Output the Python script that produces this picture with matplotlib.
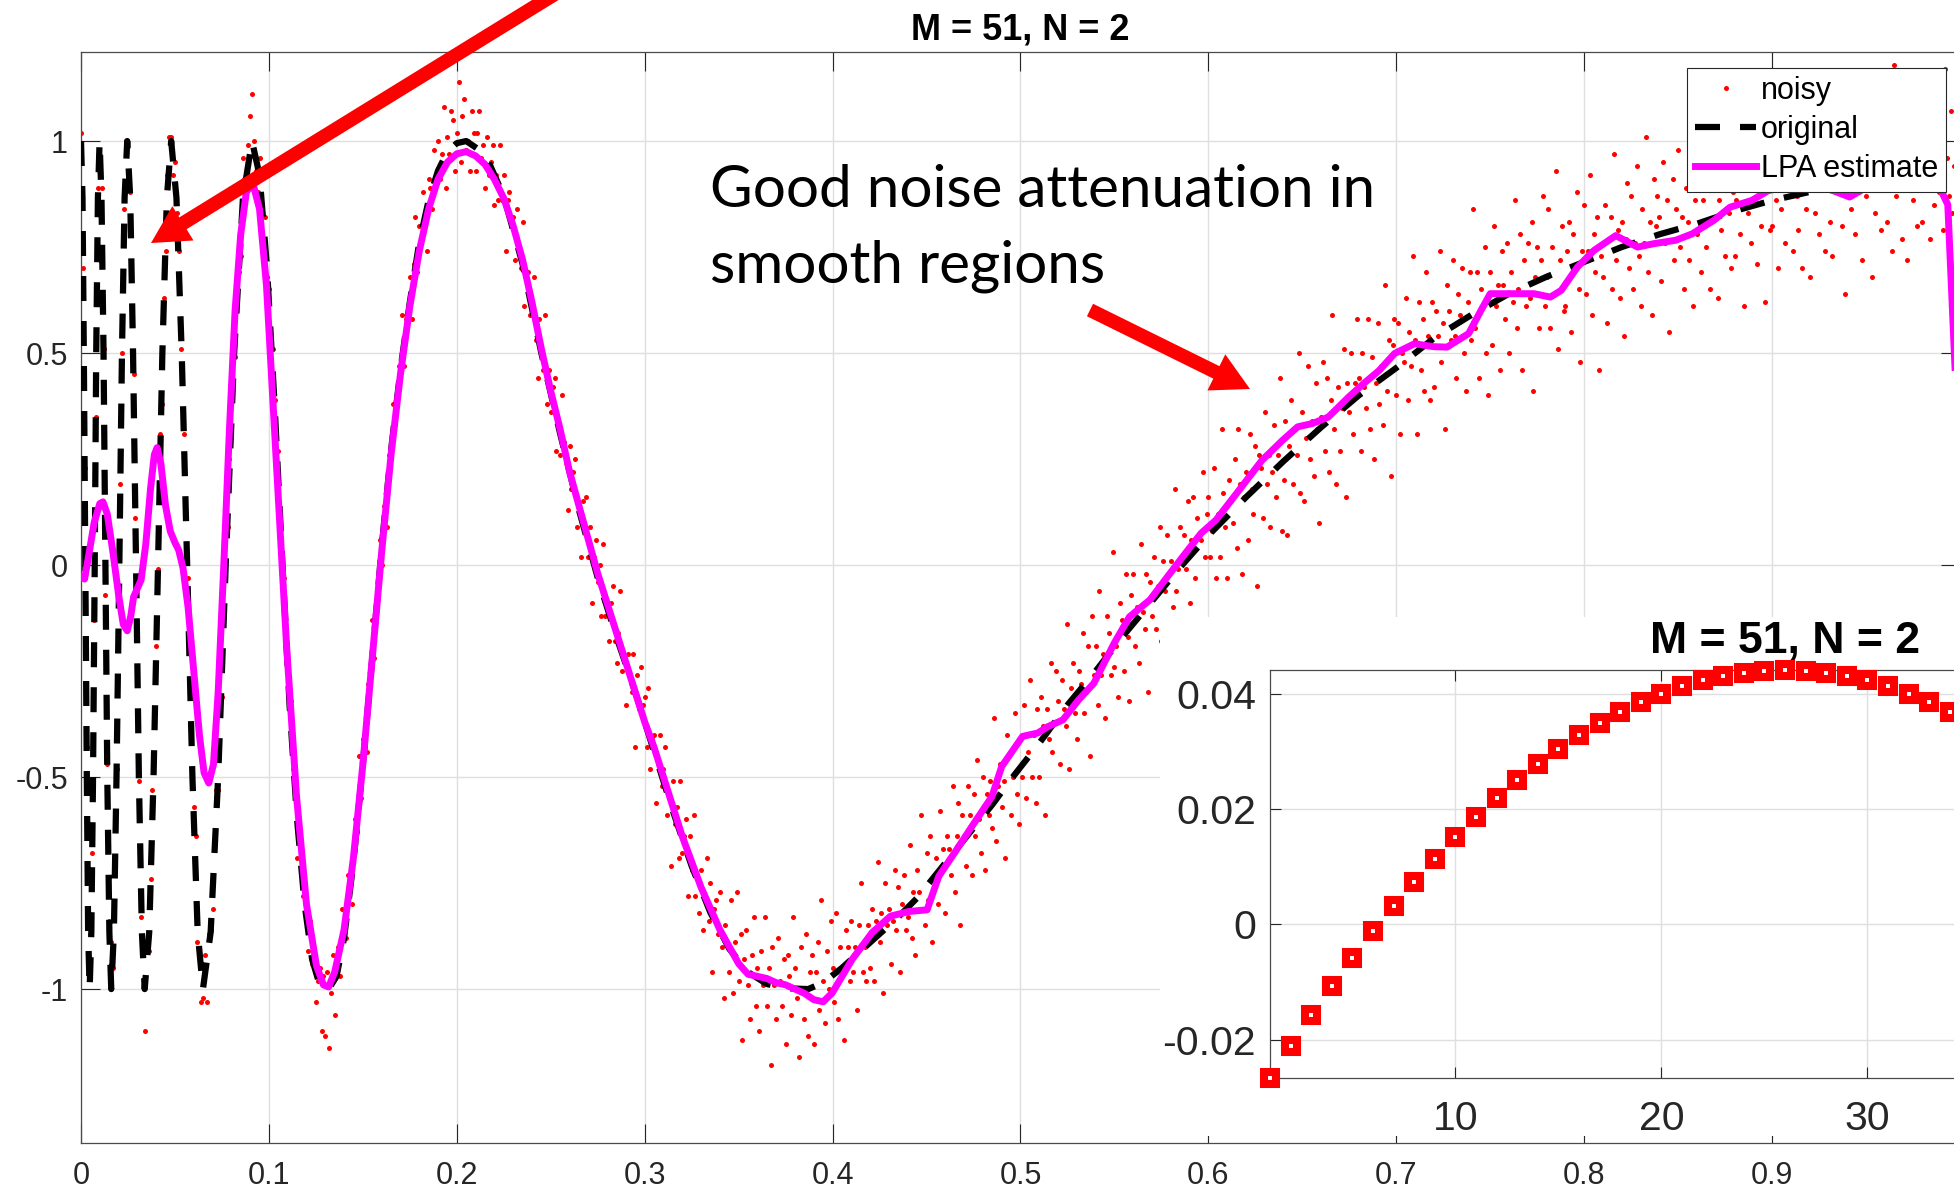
import numpy as np
import matplotlib
matplotlib.use("Agg")
import matplotlib.pyplot as plt
from matplotlib.patches import Rectangle, FancyArrowPatch

# ---------------- data ----------------
orig_x = [0.0000, 0.0008, 0.0015, 0.0023, 0.0031, 0.0038, 0.0046,
          0.0055, 0.0064, 0.0073, 0.0081, 0.0090, 0.0099,
          0.0109, 0.0120, 0.0130, 0.0140, 0.0151, 0.0161,
          0.0175, 0.0189, 0.0204, 0.0218, 0.0232, 0.0246,
          0.0262, 0.0277, 0.0293, 0.0308, 0.0324, 0.0339,
          0.0363, 0.0386, 0.0410, 0.0433, 0.0457, 0.0480,
          0.0508, 0.0536, 0.0565, 0.0593, 0.0621, 0.0649,
          0.0690, 0.0730, 0.0770, 0.0815, 0.0862, 0.0910,
          0.0950, 0.0990, 0.1030, 0.1070, 0.1110, 0.1150, 0.1190, 0.1230, 0.1270, 0.1318,
          0.1360, 0.1400, 0.1450, 0.1500, 0.1550, 0.1600, 0.1650, 0.1700, 0.1750, 0.1800,
          0.1850, 0.1900, 0.1950, 0.2000, 0.2050,
          0.2150, 0.2250, 0.2350, 0.2450, 0.2550, 0.2650, 0.2750, 0.2850, 0.2950, 0.3050,
          0.3150, 0.3250, 0.3350, 0.3450, 0.3550, 0.3650, 0.3750, 0.3870,
          0.3950, 0.4050, 0.4150, 0.4250, 0.4350, 0.4450, 0.4550, 0.4650, 0.4750, 0.4850, 0.4950,
          0.5100, 0.5250, 0.5400, 0.5550, 0.5700, 0.5850, 0.6000,
          0.6200, 0.6400, 0.6600, 0.6800, 0.7000, 0.7200, 0.7400, 0.7600, 0.7800, 0.8000,
          0.8200, 0.8400, 0.8600, 0.8800, 0.9000, 0.9200, 0.9400, 0.9600, 0.9800, 1.0000]
orig_y = [1.0, 0.866, 0.5, 0.0, -0.5, -0.866, -1.0,
          -0.866, -0.5, 0.0, 0.5, 0.866, 1.0,
          0.866, 0.5, 0.0, -0.5, -0.866, -1.0,
          -0.866, -0.5, 0.0, 0.5, 0.866, 1.0,
          0.866, 0.5, 0.0, -0.5, -0.866, -1.0,
          -0.866, -0.5, 0.0, 0.5, 0.866, 1.0,
          0.866, 0.5, 0.0, -0.5, -0.866, -1.0,
          -0.866, -0.5, 0.0, 0.5, 0.866, 1.0,
          0.92, 0.70, 0.38, 0.02, -0.33, -0.60, -0.80, -0.93, -0.99, -1.0,
          -0.97, -0.88, -0.70, -0.47, -0.22, 0.04, 0.27, 0.46, 0.62, 0.76,
          0.86, 0.93, 0.975, 0.995, 1.0,
          0.97, 0.87, 0.71, 0.50, 0.31, 0.13, -0.03, -0.17, -0.30, -0.44,
          -0.58, -0.71, -0.82, -0.905, -0.96, -0.988, -0.998, -1.0,
          -0.985, -0.95, -0.91, -0.87, -0.83, -0.785, -0.73, -0.675, -0.62, -0.565, -0.505,
          -0.42, -0.33, -0.25, -0.165, -0.085, -0.005, 0.07,
          0.16, 0.245, 0.325, 0.40, 0.465, 0.535, 0.59, 0.64, 0.68, 0.715,
          0.75, 0.78, 0.805, 0.835, 0.86, 0.88, 0.895, 0.91, 0.92, 0.93]

lpa_x = [0.0000, 0.0019, 0.0040, 0.0070, 0.0100, 0.0117, 0.0140, 0.0170, 0.0200, 0.0225,
         0.0246, 0.0265, 0.0280, 0.0300, 0.0320, 0.0345, 0.0370, 0.0390, 0.0405, 0.0425,
         0.0450, 0.0475, 0.0499, 0.0520, 0.0543, 0.0570, 0.0600, 0.0630, 0.0655, 0.0680,
         0.0705, 0.0730, 0.0760, 0.0790, 0.0820, 0.0850, 0.0880, 0.0915, 0.0950, 0.0987,
         0.1040, 0.1094, 0.1147, 0.1200, 0.1253, 0.1290, 0.1318, 0.1350, 0.1400, 0.1450,
         0.1500, 0.1550, 0.1600, 0.1650, 0.1700, 0.1750, 0.1800, 0.1850, 0.1900, 0.1950,
         0.2000, 0.2050, 0.2100, 0.2150, 0.2200, 0.2250, 0.2300, 0.2350, 0.2400, 0.2450,
         0.2500, 0.2550, 0.2600, 0.2650, 0.2700, 0.2750, 0.2800, 0.2850, 0.2900, 0.2950,
         0.3000, 0.3050, 0.3100, 0.3150, 0.3200, 0.3250, 0.3300, 0.3350, 0.3400, 0.3450,
         0.3500, 0.3550, 0.3600, 0.3650, 0.3700, 0.3750, 0.3800, 0.3850, 0.3900, 0.3950,
         0.3998, 0.4104, 0.4210, 0.4308, 0.4406, 0.4503, 0.4565, 0.4671, 0.4742, 0.4848,
         0.4900, 0.5011, 0.5092, 0.5146, 0.5226, 0.5309, 0.5390, 0.5499, 0.5580, 0.5689,
         0.5795, 0.5878, 0.5961, 0.6040, 0.6150, 0.6285, 0.6394, 0.6475, 0.6555, 0.6638,
         0.6746, 0.6826, 0.6909, 0.6991, 0.7097, 0.7200, 0.7270, 0.7385, 0.7450, 0.7500,
         0.7617, 0.7733, 0.7820, 0.7878, 0.7964, 0.8052, 0.8168, 0.8284, 0.8371, 0.8487,
         0.8574, 0.8690, 0.8776, 0.8892, 0.8979, 0.9100, 0.9200, 0.9324, 0.9413, 0.9470,
         0.9550, 0.9650, 0.9750, 0.9891, 0.9935, 0.9985]
lpa_y = [-0.027, -0.033, 0.02, 0.10, 0.145, 0.149, 0.12, 0.03, -0.07, -0.14,
         -0.155, -0.12, -0.075, -0.055, -0.035, 0.05, 0.18, 0.26, 0.277, 0.24,
         0.14, 0.08, 0.054, 0.035, -0.007, -0.10, -0.25, -0.40, -0.49, -0.514,
         -0.47, -0.30, 0.00, 0.32, 0.60, 0.78, 0.88, 0.90, 0.84, 0.66,
         0.24, -0.19, -0.545, -0.80, -0.945, -0.99, -0.995, -0.96, -0.86, -0.69,
         -0.47, -0.22, 0.03, 0.26, 0.45, 0.61, 0.74, 0.84, 0.91, 0.95,
         0.97, 0.975, 0.965, 0.945, 0.91, 0.865, 0.80, 0.72, 0.62, 0.51,
         0.41, 0.32, 0.22, 0.14, 0.06, -0.02, -0.09, -0.16, -0.23, -0.30,
         -0.37, -0.43, -0.50, -0.57, -0.64, -0.70, -0.76, -0.81, -0.86, -0.90,
         -0.94, -0.965, -0.97, -0.975, -0.985, -0.99, -1.0, -1.01, -1.025, -1.03,
         -1.009, -0.93, -0.867, -0.828, -0.817, -0.813, -0.734, -0.664, -0.616, -0.546,
         -0.475, -0.404, -0.396, -0.381, -0.365, -0.318, -0.279, -0.184, -0.122, -0.082,
         -0.02, 0.028, 0.075, 0.106, 0.169, 0.247, 0.294, 0.326, 0.334, 0.349,
         0.396, 0.428, 0.459, 0.499, 0.522, 0.515, 0.514, 0.546, 0.60, 0.64,
         0.64, 0.64, 0.632, 0.648, 0.703, 0.742, 0.777, 0.75, 0.758, 0.766,
         0.781, 0.813, 0.844, 0.86, 0.883, 0.895, 0.90, 0.883, 0.868, 0.883,
         0.90, 0.91, 0.90, 0.891, 0.85, 0.35]

noisy_y = [
    1.02, 0.70, 0.23, -0.43, -0.93, -0.87, -0.68, -0.13, 0.35, 0.89,
    0.96, 0.89, 0.51, -0.07, -0.47, -0.84, -0.89, -0.95, -0.72, -0.48,
    -0.07, 0.19, 0.50, 0.84, 1.00, 0.93, 0.88, 0.59, 0.45, 0.11,
    -0.25, -0.51, -0.83, -0.90, -1.10, -0.89, -0.91, -0.74, -0.53, -0.46,
    -0.19, -0.01, 0.31, 0.38, 0.63, 0.74, 0.92, 1.01, 1.01, 0.92,
    0.95, 0.83, 0.74, 0.51, 0.44, 0.31, 0.05, -0.03, -0.28, -0.48,
    -0.57, -0.64, -0.89, -0.91, -1.03, -1.02, -0.92, -1.03, -0.87, -0.86,
    -0.81, -0.67, -0.53, -0.53, -0.34, -0.31, -0.12, 0.09, 0.09, 0.25,
    0.32, 0.51, 0.49, 0.65, 0.69, 0.73, 0.96, 0.91, 0.89, 0.99,
    1.06, 1.11, 1.00, 0.93, 0.88, 0.96, 0.87, 0.76, 0.82, 0.68,
    0.65, 0.46, 0.51, 0.39, 0.26, 0.27, 0.10, -0.04, -0.03, -0.16,
    -0.28, -0.31, -0.32, -0.48, -0.50, -0.69, -0.64, -0.65, -0.78, -0.76,
    -0.81, -0.91, -0.84, -0.94, -0.92, -1.03, -0.98, -0.95, -1.10, -0.97,
    -1.11, -0.96, -1.14, -1.01, -0.92, -1.06, -0.95, -0.90, -0.97, -0.81,
    -0.87, -0.88, -0.73, -0.74, -0.80, -0.69, -0.60, -0.63, -0.45, -0.55,
    -0.41, -0.43, -0.44, -0.28, -0.27, -0.13, -0.22, -0.10, -0.08, 0.06,
    0.00, 0.14, 0.14, 0.09, 0.26, 0.26, 0.38, 0.33, 0.38, 0.47,
    0.44, 0.59, 0.47, 0.58, 0.58, 0.68, 0.58, 0.71, 0.82, 0.69,
    0.80, 0.76, 0.88, 0.83, 0.74, 0.91, 0.89, 0.84, 0.98, 0.92,
    1.00, 0.91, 0.97, 1.08, 0.89, 1.01, 0.97, 1.07, 1.05, 0.93,
    1.02, 1.14, 0.95, 1.06, 1.10, 0.98, 1.00, 0.93, 1.07, 1.02,
    0.93, 1.02, 1.07, 0.96, 0.99, 0.89, 1.01, 0.92, 0.95, 0.99,
    0.85, 0.92, 0.86, 0.99, 0.86, 0.92, 0.74, 0.86, 0.88, 0.80,
    0.82, 0.72, 0.84, 0.74, 0.70, 0.81, 0.61, 0.69, 0.69, 0.59,
    0.61, 0.68, 0.53, 0.44, 0.58, 0.51, 0.46, 0.59, 0.38, 0.46,
    0.36, 0.42, 0.44, 0.27, 0.33, 0.26, 0.40, 0.29, 0.24, 0.13,
    0.28, 0.18, 0.22, 0.25, 0.09, 0.14, 0.02, 0.15, 0.08, 0.16,
    0.02, 0.09, -0.09, 0.02, 0.06, -0.04, 0.00, -0.12, 0.05, -0.12,
    -0.09, -0.18, -0.09, -0.05, -0.18, -0.23, -0.16, -0.06, -0.25, -0.22,
    -0.33, -0.21, -0.26, -0.30, -0.21, -0.43, -0.26, -0.34, -0.24, -0.33,
    -0.31, -0.43, -0.29, -0.48, -0.41, -0.40, -0.56, -0.47, -0.40, -0.52,
    -0.48, -0.43, -0.59, -0.54, -0.71, -0.51, -0.61, -0.57, -0.69, -0.51,
    -0.68, -0.64, -0.60, -0.78, -0.64, -0.72, -0.59, -0.78, -0.73, -0.82,
    -0.72, -0.86, -0.79, -0.69, -0.84, -0.75, -0.96, -0.81, -0.79, -0.87,
    -0.77, -0.90, -1.02, -0.85, -0.89, -0.96, -0.79, -1.01, -0.89, -0.77,
    -0.98, -0.87, -1.12, -0.93, -0.86, -0.99, -1.07, -0.92, -0.83, -1.04,
    -0.95, -1.10, -0.91, -0.99, -0.83, -1.04, -0.95, -1.18, -0.90, -0.99,
    -1.07, -0.88, -0.98, -1.04, -0.93, -1.13, -0.92, -0.97, -1.06, -0.83,
    -0.95, -1.02, -1.16, -0.90, -1.00, -1.07, -0.87, -1.11, -0.96, -0.92,
    -1.13, -0.96, -0.89, -1.05, -0.79, -0.98, -1.08, -0.91, -1.00, -0.84,
    -0.95, -1.03, -0.82, -1.07, -0.90, -0.95, -1.12, -0.86, -0.90, -0.98,
    -0.84, -0.96, -0.90, -1.05, -0.85, -0.75, -0.96, -0.90, -0.98, -0.85,
    -0.95, -0.81, -0.98, -0.84, -0.70, -0.89, -0.82, -1.01, -0.75, -0.85,
    -0.81, -0.94, -0.84, -0.72, -0.86, -0.76, -0.96, -0.80, -0.73, -0.86,
    -0.83, -0.66, -0.88, -0.77, -0.92, -0.72, -0.77, -0.59, -0.81, -0.85,
    -0.68, -0.79, -0.64, -0.89, -0.74, -0.69, -0.80, -0.58, -0.72, -0.67,
    -0.82, -0.64, -0.67, -0.73, -0.52, -0.77, -0.64, -0.56, -0.85, -0.59,
    -0.64, -0.71, -0.52, -0.59, -0.73, -0.54, -0.64, -0.46, -0.60, -0.68,
    -0.50, -0.72, -0.54, -0.59, -0.51, -0.62, -0.36, -0.65, -0.52, -0.47,
    -0.57, -0.51, -0.69, -0.40, -0.45, -0.59, -0.50, -0.35, -0.54, -0.61,
    -0.41, -0.50, -0.33, -0.55, -0.44, -0.27, -0.50, -0.40, -0.56, -0.34,
    -0.50, -0.31, -0.38, -0.59, -0.34, -0.41, -0.23, -0.44, -0.37, -0.25,
    -0.32, -0.47, -0.27, -0.34, -0.38, -0.14, -0.48, -0.29, -0.23, -0.35,
    -0.41, -0.25, -0.28, -0.16, -0.35, -0.30, -0.19, -0.45, -0.12, -0.26,
    -0.19, -0.33, -0.06, -0.26, -0.21, -0.36, -0.12, -0.16, -0.26, 0.03,
    -0.24, -0.19, -0.31, -0.09, -0.13, -0.25, -0.02, -0.17, -0.32, -0.07,
    -0.02, -0.19, -0.10, -0.23, 0.05, -0.11, -0.15, -0.02, -0.30, -0.04,
    -0.12, 0.02, -0.15, -0.05, 0.09, -0.18, 0.01, -0.06, 0.07, -0.19,
    0.01, -0.10, 0.18, -0.06, -0.01, 0.09, -0.13, 0.07, -0.01, 0.15,
    -0.09, 0.06, 0.16, -0.03, 0.11, -0.14, 0.06, 0.22, 0.02, 0.12,
    0.16, 0.02, 0.08, 0.23, -0.03, 0.12, 0.02, 0.32, 0.17, 0.09,
    -0.03, 0.20, 0.15, 0.10, 0.25, 0.04, 0.32, 0.19, -0.02, 0.16,
    0.22, 0.06, 0.31, 0.18, 0.12, 0.28, -0.05, 0.26, 0.23, 0.11,
    0.36, 0.19, 0.26, 0.09, 0.22, 0.33, 0.16, 0.26, 0.44, 0.08,
    0.20, 0.34, 0.07, 0.28, 0.39, 0.19, 0.32, 0.26, 0.50, 0.17,
    0.36, 0.15, 0.30, 0.47, 0.25, 0.34, 0.21, 0.43, 0.32, 0.10,
    0.35, 0.48, 0.27, 0.44, 0.22, 0.39, 0.59, 0.32, 0.19, 0.42,
    0.27, 0.37, 0.51, 0.16, 0.43, 0.36, 0.50, 0.31, 0.43, 0.58,
    0.44, 0.27, 0.50, 0.42, 0.37, 0.58, 0.32, 0.49, 0.25, 0.43,
    0.57, 0.38, 0.47, 0.33, 0.66, 0.41, 0.53, 0.21, 0.52, 0.58,
    0.40, 0.57, 0.31, 0.50, 0.48, 0.63, 0.39, 0.55, 0.47, 0.73,
    0.53, 0.31, 0.62, 0.46, 0.58, 0.41, 0.69, 0.54, 0.39, 0.62,
    0.42, 0.60, 0.54, 0.74, 0.48, 0.57, 0.32, 0.66, 0.60, 0.53,
    0.72, 0.54, 0.44, 0.64, 0.59, 0.70, 0.50, 0.41, 0.62, 0.69,
    0.53, 0.84, 0.56, 0.69, 0.44, 0.65, 0.61, 0.75, 0.50, 0.40,
    0.69, 0.52, 0.80, 0.61, 0.66, 0.46, 0.74, 0.66, 0.58, 0.76,
    0.50, 0.69, 0.62, 0.86, 0.56, 0.65, 0.78, 0.46, 0.72, 0.61,
    0.76, 0.63, 0.81, 0.41, 0.68, 0.75, 0.56, 0.72, 0.87, 0.61,
    0.68, 0.84, 0.56, 0.75, 0.64, 0.93, 0.51, 0.72, 0.80, 0.60,
    0.61, 0.74, 0.81, 0.55, 0.78, 0.70, 0.88, 0.65, 0.48, 0.74,
    0.85, 0.64, 0.74, 0.92, 0.59, 0.78, 0.69, 0.82, 0.46, 0.73,
    0.68, 0.85, 0.57, 0.77, 0.82, 0.65, 0.97, 0.72, 0.79, 0.63,
    0.81, 0.54, 0.77, 0.90, 0.70, 0.87, 0.65, 0.76, 0.94, 0.73,
    0.61, 0.84, 0.76, 1.01, 0.69, 0.81, 0.59, 0.91, 0.80, 0.87,
    0.82, 0.67, 0.95, 0.76, 0.86, 0.55, 0.79, 0.91, 0.72, 0.84,
    0.98, 0.75, 0.82, 0.65, 0.89, 0.81, 0.72, 0.96, 0.61, 0.86,
    0.78, 0.91, 0.69, 0.86, 1.03, 0.75, 0.81, 0.65, 0.90, 0.95,
    0.89, 0.63, 0.86, 0.79, 0.97, 0.73, 1.08, 0.83, 0.70, 0.88,
    0.73, 0.86, 0.96, 0.78, 0.90, 0.61, 0.94, 0.83, 1.03, 0.76,
    0.86, 1.02, 0.71, 0.92, 0.80, 0.96, 0.62, 0.89, 0.99, 0.79,
    0.80, 0.94, 0.86, 0.70, 1.07, 0.84, 0.93, 0.76, 1.01, 0.90,
    0.99, 0.74, 0.92, 0.87, 0.79, 1.12, 0.70, 0.95, 0.84, 0.99,
    0.68, 0.92, 1.04, 0.83, 0.89, 0.78, 0.98, 1.08, 0.74, 0.89,
    0.95, 0.81, 0.73, 1.02, 0.91, 0.88, 1.12, 0.80, 0.94, 0.64,
    0.99, 0.90, 0.84, 1.07, 0.78, 0.97, 0.88, 1.02, 0.72, 0.94,
    0.87, 1.09, 0.93, 0.68, 0.99, 0.83, 1.05, 0.91, 0.79, 0.97,
    1.07, 0.81, 0.92, 0.98, 0.74, 1.18, 0.87, 1.02, 0.90, 0.77,
    0.92, 1.00, 0.72, 0.95, 1.05, 0.86, 0.97, 0.80, 1.10, 0.89,
    0.81, 0.98, 1.04, 0.90, 0.77, 1.02, 0.85, 1.14, 0.95, 0.88,
    1.00, 0.79, 1.17, 0.96, 0.87, 1.07, 0.83, 0.94, 0.76, 1.04,
    0.98]
noisy_x = np.linspace(0.0, 1.0, len(noisy_y))

# LPA weights shown in the inset (window M = 51, order N = 2)
inset_taps = list(range(1, 52))
inset_weights = [-0.02664, -0.02109, -0.01576, -0.01067, -0.00580, -0.00116, 0.00326,
                 0.00745, 0.01142, 0.01515, 0.01866, 0.02195, 0.02501, 0.02784,
                 0.03044, 0.03282, 0.03497, 0.03690, 0.03860, 0.04007, 0.04131,
                 0.04233, 0.04313, 0.04369, 0.04403, 0.04415, 0.04403, 0.04369,
                 0.04313, 0.04233, 0.04131, 0.04007, 0.03860, 0.03690, 0.03497,
                 0.03282, 0.03044, 0.02784, 0.02501, 0.02195, 0.01866, 0.01515,
                 0.01142, 0.00745, 0.00326, -0.00116, -0.00580, -0.01067, -0.01576,
                 -0.02109, -0.02664]

# only the ticks that fall inside the (cropped) picture carry labels
main_xticks = [0, 0.1, 0.2, 0.3, 0.4, 0.5, 0.6, 0.7, 0.8, 0.9]
main_xticklabels = ["0", "0.1", "0.2", "0.3", "0.4", "0.5", "0.6", "0.7", "0.8", "0.9"]
main_yticks = [-1, -0.5, 0, 0.5, 1]
main_yticklabels = ["-1", "-0.5", "0", "0.5", "1"]
inset_xticks = [10, 20, 30]
inset_xticklabels = ["10", "20", "30"]
inset_yticks = [-0.02, 0, 0.02, 0.04]
inset_yticklabels = ["-0.02", "0", "0.02", "0.04"]

title_text = "M = 51, N = 2"
note_lines = ["Good noise attenuation in", "smooth regions"]

# ---------------- figure ----------------
plt.rcParams['font.family'] = ['Liberation Sans', 'DejaVu Sans']
W, H = 1954, 1194
fig = plt.figure(figsize=(W / 100, H / 100), dpi=100)
fig.patch.set_facecolor('white')

AX_COL = '#262626'
GRID_COL = '#dfdfdf'

# main axes (extends slightly beyond the right edge, as in the cropped reference)
ax = fig.add_axes([81 / W, (H - 1143) / H, (1960 - 81) / W, (1143 - 52) / H], zorder=0)
ax.plot(noisy_x, noisy_y, linestyle='none', marker='o', markersize=3.6,
        markerfacecolor='red', markeredgecolor='none', label='noisy', zorder=2)
ax.plot(orig_x, orig_y, color='black', linewidth=4.5, dashes=(4.0, 3.2),
        dash_capstyle='butt', label='original', zorder=3)
ax.plot(lpa_x, lpa_y, color=(1, 0, 1), linewidth=5.0, solid_joinstyle='round',
        label='LPA estimate', zorder=4)
ax.set_xlim(0, 1)
ax.set_ylim(-1.363, 1.21)
ax.set_xticks(main_xticks)
ax.set_xticklabels(main_xticklabels)
ax.set_yticks(main_yticks)
ax.set_yticklabels(main_yticklabels)
ax.grid(True, color=GRID_COL, linewidth=1.0)
ax.set_axisbelow(True)
ax.tick_params(direction='in', length=13.5, width=0.8, colors=AX_COL,
               labelsize=22, top=True, right=True)
ax.tick_params(axis='x', pad=13)
ax.tick_params(axis='y', pad=9.5)
for s in ax.spines.values():
    s.set_color('#4a4a4a')
    s.set_linewidth(0.9)
ax.set_title(title_text, fontsize=26, fontweight='bold', pad=9, color='black')

leg = ax.legend(loc='upper right', bbox_to_anchor=(1946 / W, 1 - 68 / H),
                bbox_transform=fig.transFigure, fontsize=22, frameon=True,
                fancybox=False, framealpha=1, edgecolor=AX_COL, borderpad=0.25,
                labelspacing=0.3, handlelength=2.0, handletextpad=0.16,
                borderaxespad=0, numpoints=1)
leg.get_frame().set_linewidth(0.8)

# white backdrop of the pasted inset figure
fig.add_artist(Rectangle((1160 / W, (H - 1136) / H), (W - 1160) / W + 0.01,
                         (1136 - 617) / H, transform=fig.transFigure,
                         facecolor='white', edgecolor='none', zorder=2))

# inset axes
axi = fig.add_axes([1270 / W, (H - 1078) / H, 1030 / W, (1078 - 670) / H], zorder=3)
axi.plot(inset_taps, inset_weights, linestyle='none', marker='s', markersize=8.6,
         markerfacecolor='white', markeredgecolor='red', markeredgewidth=5.8,
         clip_on=False, zorder=4)
axi.set_xlim(inset_taps[0], inset_taps[-1])
axi.set_ylim(min(inset_weights), max(inset_weights))
axi.set_xticks(inset_xticks)
axi.set_xticklabels(inset_xticklabels)
axi.set_yticks(inset_yticks)
axi.set_yticklabels(inset_yticklabels)
axi.grid(True, color=GRID_COL, linewidth=1.0)
axi.set_axisbelow(True)
axi.tick_params(direction='in', length=8, width=0.8, colors=AX_COL,
                labelsize=29.5, top=True, right=True)
axi.tick_params(axis='x', pad=16)
axi.tick_params(axis='y', pad=10)
for s in axi.spines.values():
    s.set_color('#4a4a4a')
    s.set_linewidth(0.9)
axi.set_title(title_text, fontsize=32, fontweight='bold', pad=12.6, color='black')

# annotation text
fig.text(710 / W, 1 - 207 / H, note_lines[0], fontsize=42, family=['Lato', 'DejaVu Sans'],
         ha='left', va='baseline', color='black', zorder=6)
fig.text(710 / W, 1 - 283 / H, note_lines[1], fontsize=42, family=['Lato', 'DejaVu Sans'],
         ha='left', va='baseline', color='black', zorder=6)

# red arrows
def px_in(x, y):
    return (x / 100.0, (H - y) / 100.0)

arrow_style = "simple,head_length=2.7,head_width=2.9,tail_width=1.0"
for tail, tip in [((594, -30), (151, 243)), ((1090, 310), (1250, 389))]:
    arr = FancyArrowPatch(px_in(*tail), px_in(*tip), arrowstyle=arrow_style,
                          mutation_scale=10, color='red', linewidth=0,
                          transform=fig.dpi_scale_trans, zorder=7,
                          shrinkA=0, shrinkB=0)
    fig.add_artist(arr)

fig.savefig("out.png", dpi=100, facecolor='white')
